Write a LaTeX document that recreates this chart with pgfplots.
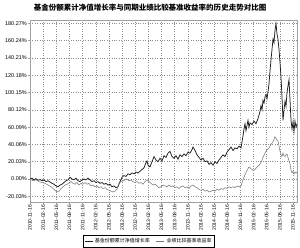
\documentclass[border=0pt]{standalone}
\usepackage{fontspec}
\setmainfont{Liberation Sans}
\newfontfamily\cjk{Noto Sans CJK SC}
\usepackage{pgfplots}
\pgfplotsset{compat=1.18}
\definecolor{fundc}{HTML}{1E1E1E}
\definecolor{benchc}{HTML}{7A7A7A}
\definecolor{gridc}{HTML}{8C8C8C}
\definecolor{framec}{HTML}{A0A0A0}
\begin{document}
\begin{tikzpicture}
\begin{axis}[
  scale only axis, width=267pt, height=182pt,
  xmin=30, xmax=297, ymin=-26.6, ymax=184.1,
  axis line style={framec, line width=0.5pt},
  xtick={30,43.15,56.3,69.45,82.6,95.75,108.9,122.05,135.2,148.35,161.5,174.65,187.8,200.95,214.1,227.25,240.4,253.55,266.7,279.85,293},
  xticklabels={2010-11-16,2011-02-16,2011-05-16,2011-08-16,2011-11-16,2012-02-16,2012-05-16,2012-08-16,2012-11-16,2013-02-16,2013-05-16,2013-08-16,2013-11-16,2014-02-16,2014-05-16,2014-08-16,2014-11-16,2015-02-16,2015-05-16,2015-08-16,2015-11-16},
  x tick label style={rotate=90, anchor=east, font=\fontsize{5}{6}\selectfont, inner sep=1pt},
  ytick={-20.03,0,20.03,40.06,60.09,80.12,100.15,120.18,140.21,160.24,180.27},
  yticklabels={-20.03\%,0.00\%,20.03\%,40.06\%,60.09\%,80.12\%,100.15\%,120.18\%,140.21\%,160.24\%,180.27\%},
  y tick label style={font=\fontsize{5.5}{6}\selectfont, inner sep=1pt},
  tick align=outside, major tick length=2pt,
  tick style={framec, line width=0.4pt},
  xtick pos=bottom, ytick pos=left,
  grid=major,
  major grid style={gridc, dotted, line width=0.5pt},
  legend columns=2,
  legend style={at={(0.4457,-0.2143)}, anchor=center, draw=black, line width=0.4pt,
    font=\cjk\fontsize{5}{6}\selectfont, inner sep=1pt,
    /tikz/every even column/.append style={column sep=4pt}},
  legend image post style={line width=0.6pt},
  legend image code/.code={\draw[#1] (0pt,0pt) -- (8pt,0pt);},
]
\addplot[fundc, line width=0.75pt] coordinates {
(30,0)(32,1)(34,-1)(36,0.5)(38,-1.5)(40,-0.5)(42,-2)(44,-1)(46,-3)(48,-2)(50,-3.5)(52,-5)(54,-6)(56,-8)(58,-9)(60,-7)(62,-6)(64,-4)(66,-2)(68,-1)(70,2)(72,0)(74,-1)(76,1)(78,-2)(80,-3)(82,-1)(84,0)(86,-1)(88,1)(90,-1)(92,-3)(94,-2)(96,-4)(98,-3)(100,-5)(102,-4)(104,-6)(106,-5)(108,-7)(110,-6)(112,-9)(114,-8)(116,-10)(118,-9)(120,-3)(122,2)(124,4)(126,3)(128,6)(130,5)(132,7)(134,6)(136,8)(138,7)(140,9)(142,11)(144,13)(146,19)(147,21)(148,16)(150,14)(152,20)(154,26)(156,22)(158,20)(160,24)(162,21)(164,27)(166,25)(168,30)(170,32)(172,26)(174,24)(176,27)(178,23)(180,28)(182,26)(184,29)(186,27)(188,31)(190,30)(192,34)(193,37)(195,33)(197,28)(199,25)(201,22)(203,24)(205,20)(207,21)(209,17)(211,19)(213,16)(215,20)(217,18)(219,22)(221,25)(223,28)(225,26)(227,31)(229,34)(231,37)(233,33)(235,36)(237,35)(239,38)(241,36)(242,43)(243,50)(244,58)(245,64)(246,56)(247,62)(248,68)(249,60)(250,65)(252,63)(254,67)(256,64)(258,70)(260,78)(261,85)(262,80)(263,91)(264,88)(265,95)(266,98)(267,93)(268,101)(269,110)(270,125)(271,138)(272,150)(273,162)(274,158)(275,172)(276,180)(277,168)(278,162)(279,150)(280,135)(281,118)(282,95)(283,68)(284,80)(285,90)(286,84)(287,100)(288,108)(289,115)(290,92)(291,68)(292,58)(293,66)(294,55)(295,67)(296,60)(297,64)
};
\addlegendentry{基金份额累计净值增长率}
\addplot[benchc, line width=0.55pt] coordinates {
(30,0)(33,-2)(36,-1)(39,-3)(42,-4)(45,-5)(48,-7)(51,-9)(54,-12)(57,-15)(59,-14)(61,-11)(63,-9)(65,-7)(67,-6)(69,-5)(71,-3)(73,-5)(75,-6)(77,-4)(79,-7)(81,-5)(83,-6)(85,-4)(87,-6)(89,-5)(91,-8)(93,-7)(95,-9)(97,-8)(99,-10)(101,-9)(103,-11)(105,-10)(107,-12)(109,-13)(111,-14)(113,-15)(115,-14)(117,-12)(119,-5)(121,-3)(123,-2)(125,-1)(127,0)(129,-2)(131,-1)(133,-3)(135,-4)(137,-3)(139,-5)(141,-4)(143,-6)(145,-3)(147,-1)(149,-3)(151,-5)(153,-7)(155,-6)(157,-8)(159,-10)(161,-9)(163,-7)(165,-8)(167,-9)(169,-7)(171,-9)(173,-8)(175,-10)(177,-9)(179,-11)(181,-9)(183,-8)(185,-10)(187,-9)(189,-11)(191,-8)(193,-7)(195,-9)(197,-10)(199,-12)(201,-13)(203,-12)(205,-14)(207,-13)(209,-15)(211,-14)(213,-13)(215,-14)(217,-12)(219,-13)(221,-11)(223,-12)(225,-10)(227,-11)(229,-9)(231,-10)(233,-9)(235,-10)(237,-8)(239,-9)(241,-8)(243,-1)(245,5)(247,10)(249,14)(251,12)(253,10)(255,11)(257,14)(259,16)(261,19)(263,25)(265,30)(267,34)(269,36)(271,40)(273,43)(275,49)(276,47)(277,45)(278,44)(279,38)(280,32)(281,28)(282,26)(283,30)(284,27)(285,26)(286,28)(287,29)(288,25)(289,21)(290,18)(291,10)(292,7)(293,9)(294,6)(295,8)(296,7)(297,8)
};
\addlegendentry{业绩比较基准收益率}
\end{axis}
\node[font=\cjk\bfseries\fontsize{7.5}{9}\selectfont] at (120pt,194pt) {基金份额累计净值增长率与同期业绩比较基准收益率的历史走势对比图};
\pgfresetboundingbox
\path (-30pt,-46pt) rectangle (270pt,202pt);
\end{tikzpicture}
\end{document}
